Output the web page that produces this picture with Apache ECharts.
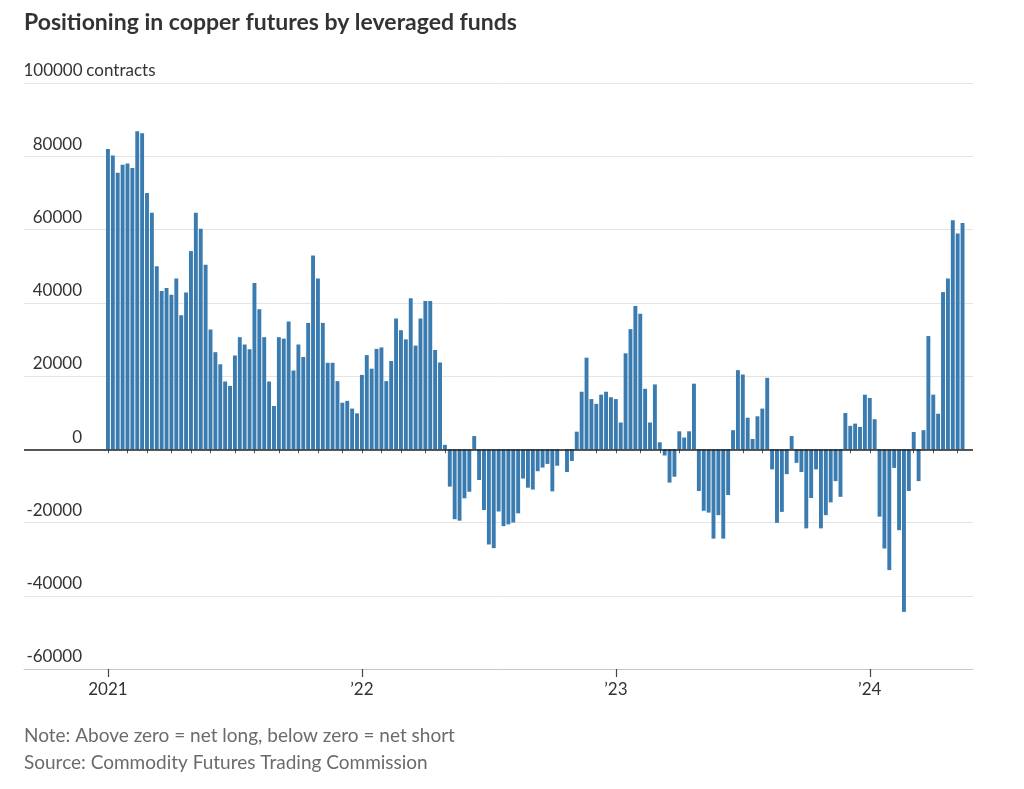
<!DOCTYPE html>
<html><head><meta charset="utf-8">
<script src="https://cdn.jsdelivr.net/npm/echarts@6/dist/echarts.min.js"></script>
<style>html,body{margin:0;padding:0;background:#fff}#c{width:1024px;height:789px}</style>
</head><body><div id="c"></div>
<script>
// Weekly net position (contracts), leveraged funds, copper futures
const net2021 = [82000, 80200, 75500, 77700, 78000, 76800, 86800, 86300, 70000, 64600,
  50000, 43200, 44000, 42200, 46600, 36600, 42800, 54100, 64600, 60200,
  50400, 32700, 26500, 23200, 18500, 17300, 25600, 30600, 28600, 27300,
  45400, 38200, 30600, 18500, 11800, 30600, 30200, 34900, 21500, 28600,
  25200, 34500, 52900, 46600, 34500, 23600, 23600, 18600, 12700, 13200, 11100, 9800];
const net2022 = [20300, 25700, 22000, 27400, 27800, 18600, 24100, 35700, 32500, 30000,
  41200, 28300, 35700, 40500, 40500, 27100, 23700, 1200,
  -10200, -19100, -19500, -13400, -11600, 3600, -8400, -16600,
  -26000, -27000, -17000, -21000, -20500, -20000, -17500, -8000, -10500, -11000,
  -6000, -5000, -4000, -11500, -4500, 0, -6200, -3200, 4800,
  15700, 25000, 13700, 12400, 14900, 15700, 14200];
const net2023 = [13700, 7300, 26200, 32800, 39100, 37000, 16500, 7300, 17700, 1900, -1700, -9100, -7500,
  4900, 3200, 4900, 17900, -11400, -16800, -17300, -24400, -18000, -24400, -12500,
  5200, 21600, 20400, 8600, 2800, 9000, 11100, 19500,
  -5500, -20100, -17100, -6800, 3600, -3700, -6200, -21600, -13300, -5500,
  -21600, -18000, -14500, -8700, -13000, 9900, 6400, 7000, 6100, 14900];
const net2024 = [14000, 8200, -18400, -27100, -33000, -5100, -22100, -44400, -11400, 4700,
  -8700, 5200, 30900, 14900, 9700, 42900, 46600, 62500, 58900, 61800];

const netPositions = [].concat(net2021, net2022, net2023, net2024);

const firstReportDate = '2021-01-05';
const yMin = -60000, yMax = 100000, yStep = 20000;
const yUnit = 'contracts';

const titleText = 'Positioning in copper futures by leveraged funds';
const noteText = 'Note: Above zero = net long, below zero = net short';
const sourceText = 'Source: Commodity Futures Trading Commission';

function weeklyDates(start, n) {
  const out = [];
  const t0 = Date.parse(start + 'T00:00:00Z');
  for (let i = 0; i < n; i++) {
    const d = new Date(t0 + i * 7 * 86400000);
    out.push(d.toISOString().slice(0, 10));
  }
  return out;
}
const weeks = weeklyDates(firstReportDate, netPositions.length);

const isMonthStart = (i, v) => Number(v.slice(8, 10)) <= 7;
const isYearStart = (i, v) => Number(v.slice(5, 7)) === 1 && Number(v.slice(8, 10)) <= 7;
const yearLabel = v => {
  const y = v.slice(0, 4);
  return y === '2021' ? y : '\u2019' + y.slice(2);
};

const FONT = 'Lato';
const chart = echarts.init(document.getElementById('c'), null, {renderer: 'canvas'});
chart.setOption({
  animation: false,
  backgroundColor: '#fff',
  title: [
    {text: titleText, left: 24, top: 11, padding: 0,
     textStyle: {fontFamily: FONT, fontWeight: 'bold', fontSize: 23, color: '#333'}},
    {text: noteText + '\n' + sourceText, left: 24, top: 722, padding: 0,
     textStyle: {fontFamily: FONT, fontWeight: 'normal', fontSize: 19, lineHeight: 27, color: '#6b6b6b'}}
  ],
  grid: [
    {left: 24, right: 51, top: 83, bottom: 120, containLabel: false},
    {left: 105.5, right: 59, top: 83, bottom: 120, containLabel: false}
  ],
  xAxis: [
    {type: 'value', gridIndex: 0, min: 0, max: 1, position: 'bottom',
     axisLine: {show: true, onZero: false, lineStyle: {color: '#c8c8c8', width: 1}},
     axisTick: {show: false}, axisLabel: {show: false}, splitLine: {show: false}},
    {type: 'category', gridIndex: 1, data: weeks, position: 'bottom',
     axisLine: {show: false},
     axisTick: {show: true, interval: isMonthStart, alignWithLabel: true, length: 4,
                lineStyle: {color: '#555', width: 1}},
     axisLabel: {show: true, interval: isYearStart, formatter: yearLabel, margin: 12,
                 fontFamily: FONT, fontSize: 17, color: '#333'}},
    {type: 'category', gridIndex: 1, data: weeks, position: 'bottom',
     axisLine: {show: false},
     axisTick: {show: true, interval: isYearStart, alignWithLabel: true, length: 8,
                lineStyle: {color: '#444', width: 1.2}},
     axisLabel: {show: false}}
  ],
  yAxis: [
    {type: 'value', gridIndex: 0, min: yMin, max: yMax, interval: yStep,
     axisLine: {show: false}, axisTick: {show: false},
     splitLine: {show: true, lineStyle: {color: '#e4e4e4', width: 1}},
     axisLabel: {show: true, inside: true, margin: 0, verticalAlign: 'bottom',
                 padding: [0, 0, 2, 0],
                 formatter: v => v === yMax ? '{n|' + v + '}{u| ' + yUnit + '}' : '{n|' + v + '}',
                 rich: {
                   n: {width: 58, align: 'right', fontFamily: FONT, fontSize: 17, lineHeight: 20, color: '#333'},
                   u: {fontFamily: FONT, fontSize: 17, lineHeight: 20, color: '#333'}
                 }}},
    {type: 'value', gridIndex: 1, min: yMin, max: yMax, interval: yStep, show: false,
     splitLine: {show: false}}
  ],
  series: [
    {type: 'line', xAxisIndex: 0, yAxisIndex: 0, data: [], silent: true,
     markLine: {symbol: 'none', silent: true, label: {show: false},
                lineStyle: {color: '#222', width: 1.5, type: 'solid'},
                emphasis: {disabled: true},
                data: [{yAxis: 0}]}},
    {type: 'bar', xAxisIndex: 1, yAxisIndex: 1, data: netPositions,
     barCategoryGap: '20%', itemStyle: {color: '#3a7bb0'}, z: 1}
  ]
});
</script></body></html>
